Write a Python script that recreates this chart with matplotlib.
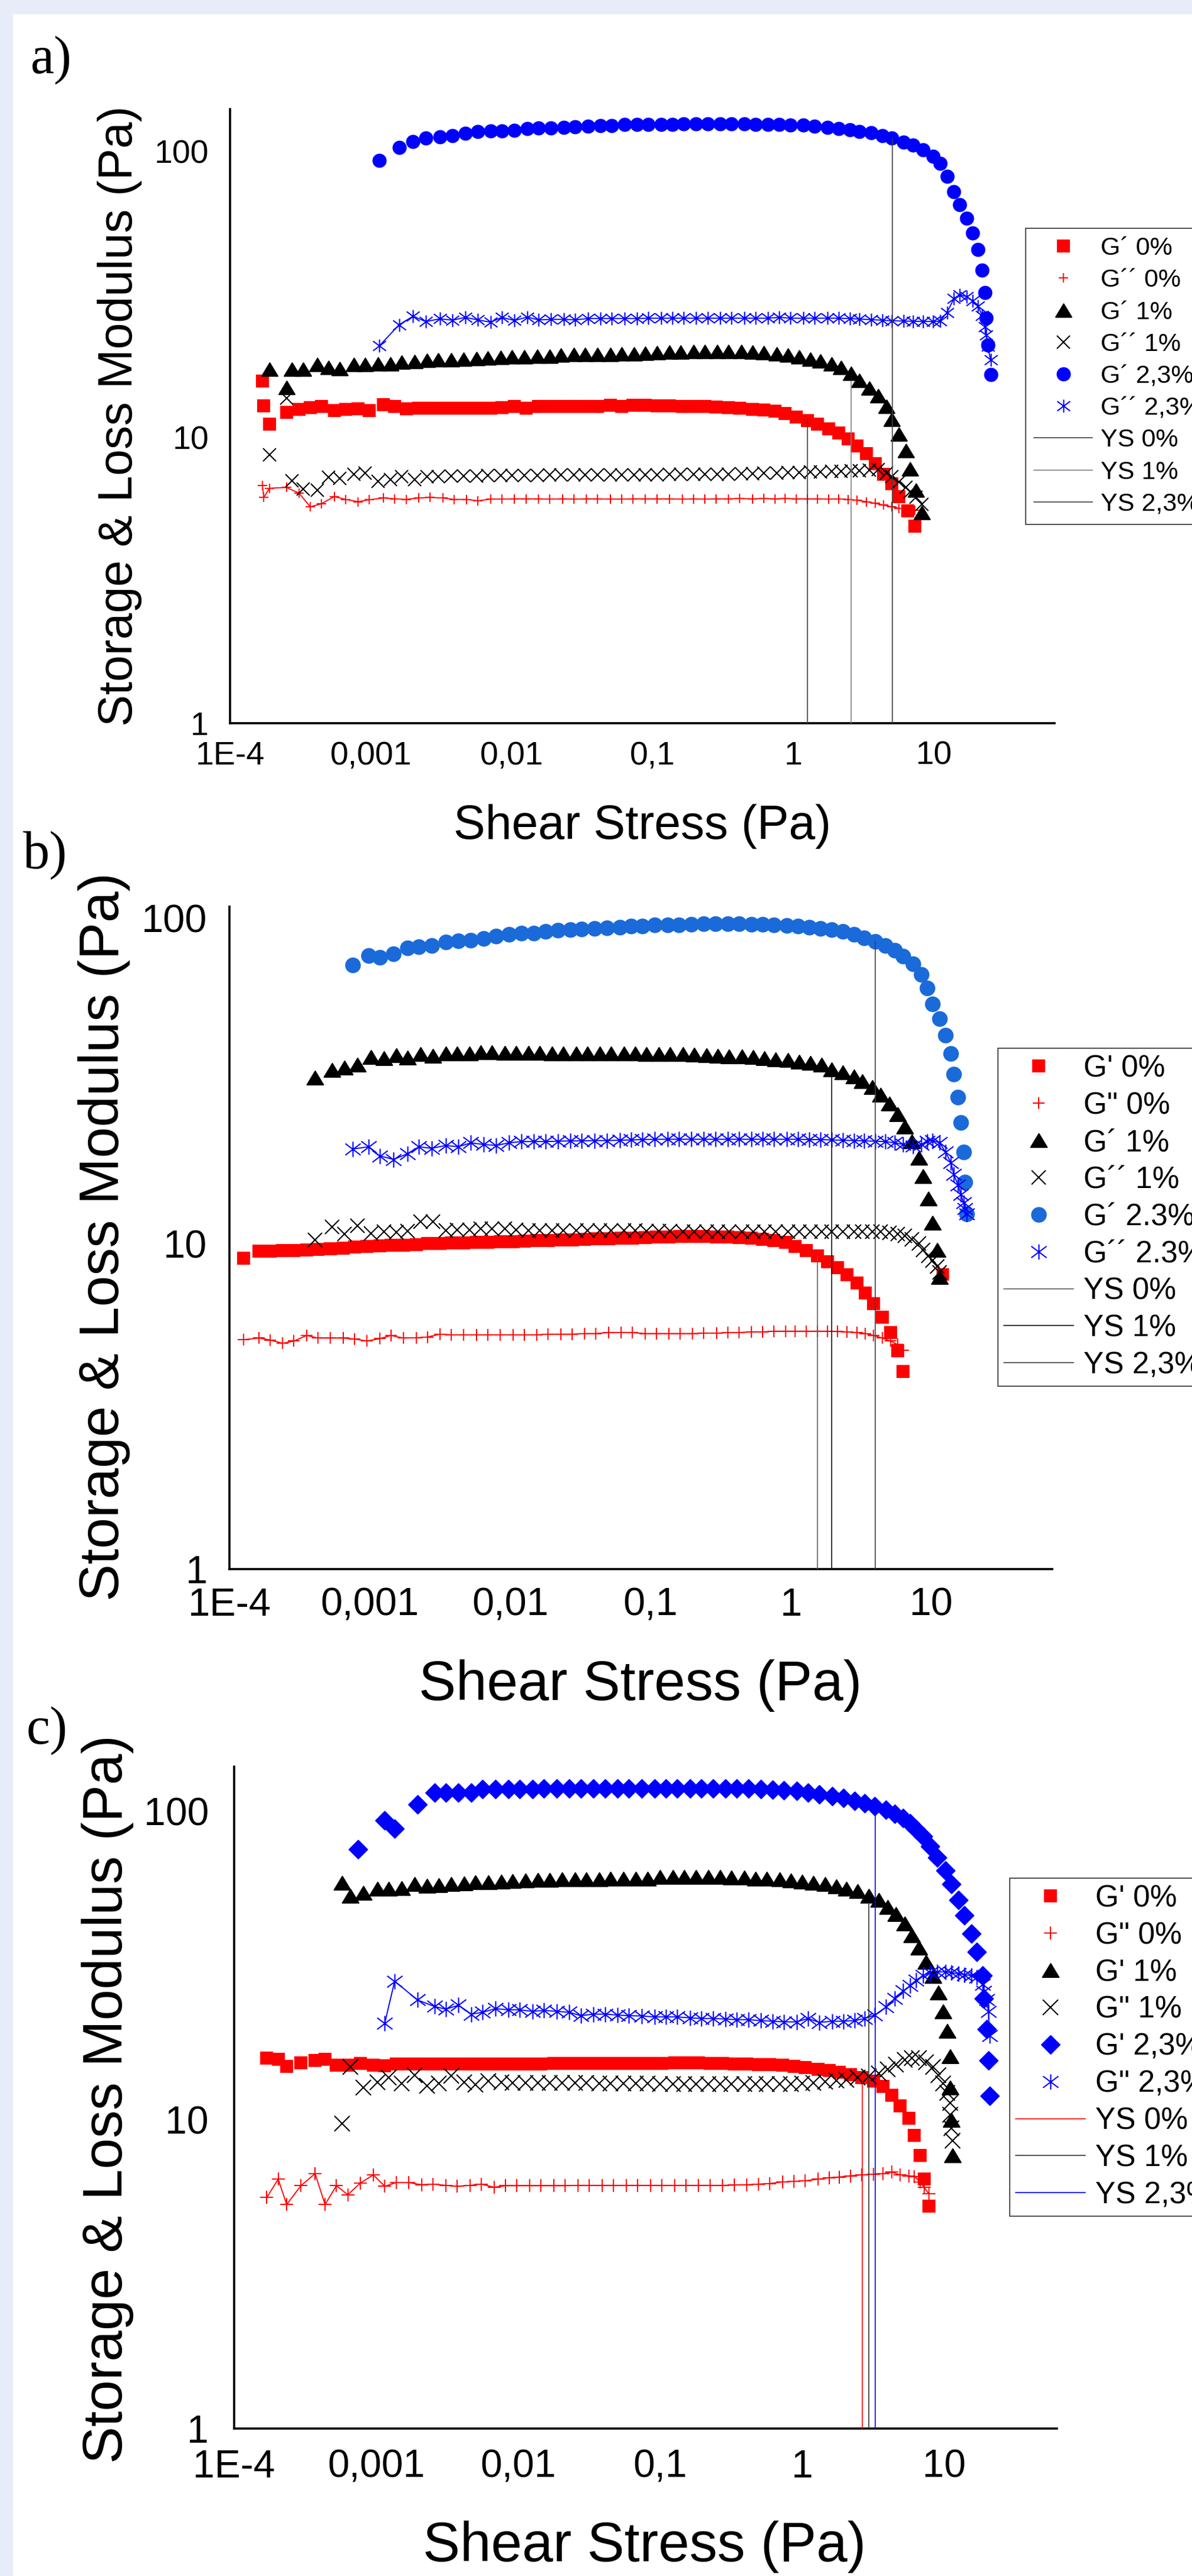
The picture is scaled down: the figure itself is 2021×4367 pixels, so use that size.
import numpy as np
import matplotlib
matplotlib.use("Agg")
import matplotlib.pyplot as plt
from matplotlib.path import Path
from matplotlib.patches import Rectangle
from matplotlib.ticker import NullLocator

W, H = 2021, 4367

plt.rcParams["font.family"] = ["Liberation Sans", "DejaVu Sans"]

X_TICKS = [1e-4, 1e-3, 1e-2, 1e-1, 1, 10]
X_TICK_LABELS = ["1E-4", "0,001", "0,01", "0,1", "1", "10"]
Y_TICKS = [1, 10, 100]
Y_TICK_LABELS = ["1", "10", "100"]

# series values are log10 of the values (shear stress, modulus in Pa)
# ---- a) ----
A_X0 = [-3.77, -3.76, -3.72, -3.60, -3.51, -3.43, -3.35, -3.26, -3.18, -3.09,
        -3.01, -2.91, -2.83, -2.75, -2.66, -2.58, -2.49, -2.41, -2.32, -2.24,
        -2.15, -2.07, -1.98, -1.90, -1.81, -1.73, -1.64, -1.56, -1.47, -1.39,
        -1.30, -1.22, -1.14, -1.05, -0.97, -0.88, -0.79, -0.71, -0.63, -0.55,
        -0.46, -0.38, -0.29, -0.21, -0.13, -0.06, 0.02, 0.10, 0.17, 0.25,
        0.32, 0.39, 0.45, 0.52, 0.58, 0.64, 0.70, 0.75, 0.81, 0.86]
A_GP0 = [1.197, 1.111, 1.047, 1.088, 1.099, 1.104, 1.109, 1.094, 1.098, 1.101,
         1.094, 1.114, 1.108, 1.101, 1.103, 1.103, 1.103, 1.103, 1.103, 1.103,
         1.103, 1.105, 1.109, 1.103, 1.109, 1.109, 1.109, 1.109, 1.109, 1.109,
         1.113, 1.109, 1.113, 1.113, 1.111, 1.111, 1.109, 1.109, 1.109, 1.106,
         1.104, 1.103, 1.099, 1.096, 1.091, 1.084, 1.071, 1.059, 1.047, 1.030,
         1.015, 0.995, 0.971, 0.943, 0.909, 0.872, 0.837, 0.793, 0.744, 0.689]
A_GPP0 = [0.831, 0.790, 0.822, 0.825, 0.805, 0.757, 0.768, 0.793, 0.783, 0.775,
          0.782, 0.788, 0.785, 0.783, 0.788, 0.790, 0.788, 0.783, 0.783, 0.778,
          0.784, 0.784, 0.785, 0.785, 0.785, 0.784, 0.785, 0.784, 0.785, 0.785,
          0.784, 0.784, 0.785, 0.785, 0.785, 0.785, 0.784, 0.785, 0.784, 0.785,
          0.785, 0.786, 0.785, 0.786, 0.785, 0.786, 0.785, 0.785, 0.785, 0.784,
          0.785, 0.783, 0.780, 0.775, 0.769, 0.763, 0.757, 0.752, 0.748, 0.745]
A_X1 = [-3.72, -3.60, -3.56, -3.48, -3.38, -3.30, -3.22, -3.12, -3.04, -2.95,
        -2.86, -2.78, -2.69, -2.60, -2.52, -2.43, -2.34, -2.25, -2.17, -2.08,
        -2.00, -1.91, -1.82, -1.73, -1.65, -1.56, -1.48, -1.39, -1.30, -1.22,
        -1.13, -1.05, -0.97, -0.88, -0.80, -0.71, -0.63, -0.54, -0.46, -0.37,
        -0.29, -0.21, -0.12, -0.04, 0.04, 0.12, 0.19, 0.27, 0.34, 0.41,
        0.47, 0.54, 0.60, 0.66, 0.70, 0.75, 0.80, 0.83, 0.87, 0.91]
A_GP1 = [1.239, 1.175, 1.239, 1.239, 1.254, 1.244, 1.241, 1.254, 1.254, 1.257,
         1.256, 1.263, 1.266, 1.269, 1.271, 1.272, 1.274, 1.276, 1.277, 1.279,
         1.282, 1.282, 1.284, 1.284, 1.287, 1.289, 1.289, 1.290, 1.290, 1.292,
         1.293, 1.294, 1.296, 1.298, 1.298, 1.300, 1.300, 1.300, 1.300, 1.300,
         1.298, 1.296, 1.293, 1.288, 1.282, 1.274, 1.267, 1.257, 1.244, 1.224,
         1.200, 1.173, 1.145, 1.109, 1.062, 1.012, 0.953, 0.889, 0.815, 0.736]
A_GPP1 = [0.940, 1.137, 0.849, 0.820, 0.815, 0.860, 0.857, 0.871, 0.875, 0.846,
          0.852, 0.863, 0.852, 0.862, 0.862, 0.864, 0.865, 0.865, 0.866, 0.866,
          0.867, 0.867, 0.867, 0.868, 0.868, 0.868, 0.869, 0.869, 0.869, 0.869,
          0.869, 0.869, 0.869, 0.870, 0.870, 0.870, 0.871, 0.871, 0.872, 0.873,
          0.874, 0.875, 0.876, 0.877, 0.878, 0.879, 0.880, 0.881, 0.882, 0.883,
          0.884, 0.885, 0.888, 0.875, 0.862, 0.845, 0.826, 0.810, 0.790, 0.765]
A_X2 = [-2.94, -2.80, -2.70, -2.61, -2.51, -2.42, -2.33, -2.24, -2.15, -2.07,
        -1.98, -1.89, -1.81, -1.72, -1.63, -1.55, -1.46, -1.37, -1.29, -1.20,
        -1.11, -1.03, -0.94, -0.86, -0.78, -0.69, -0.61, -0.52, -0.44, -0.35,
        -0.27, -0.18, -0.10, -0.02, 0.07, 0.15, 0.24, 0.32, 0.40, 0.47,
        0.55, 0.63, 0.70, 0.78, 0.85, 0.92, 0.99, 1.04, 1.09, 1.14,
        1.18, 1.23, 1.27, 1.31, 1.34, 1.36, 1.37, 1.38, 1.40]
A_GP2 = [1.969, 2.015, 2.036, 2.047, 2.052, 2.056, 2.064, 2.070, 2.072, 2.073,
         2.075, 2.080, 2.082, 2.083, 2.084, 2.087, 2.089, 2.090, 2.091, 2.094,
         2.094, 2.094, 2.095, 2.095, 2.096, 2.096, 2.096, 2.096, 2.096, 2.096,
         2.095, 2.095, 2.094, 2.093, 2.092, 2.088, 2.085, 2.081, 2.076, 2.071,
         2.066, 2.056, 2.047, 2.034, 2.022, 2.006, 1.984, 1.958, 1.913, 1.859,
         1.815, 1.767, 1.716, 1.657, 1.585, 1.506, 1.417, 1.323, 1.219]
A_GPP2 = [1.320, 1.394, 1.424, 1.405, 1.415, 1.410, 1.420, 1.411, 1.403, 1.420,
          1.409, 1.421, 1.411, 1.413, 1.413, 1.411, 1.416, 1.416, 1.416, 1.416,
          1.416, 1.417, 1.417, 1.417, 1.417, 1.417, 1.417, 1.417, 1.417, 1.417,
          1.417, 1.417, 1.420, 1.417, 1.417, 1.417, 1.417, 1.417, 1.416, 1.414,
          1.412, 1.410, 1.408, 1.407, 1.406, 1.406, 1.405, 1.407, 1.437, 1.486,
          1.498, 1.493, 1.478, 1.460, 1.427, 1.387, 1.358, 1.318, 1.271]
# yield stress lines (Pa): position and height of each vertical line
A_YS_X = [1.26, 2.56, 5.04]
A_YS_TOP = [11.5, 15.7, 110.6]

# ---- b) ----
B_X0 = [-3.90, -3.79, -3.71, -3.62, -3.54, -3.45, -3.37, -3.28, -3.19, -3.11,
        -3.02, -2.93, -2.85, -2.76, -2.67, -2.59, -2.50, -2.42, -2.33, -2.24,
        -2.16, -2.07, -1.98, -1.90, -1.81, -1.73, -1.64, -1.56, -1.47, -1.39,
        -1.30, -1.21, -1.13, -1.04, -0.96, -0.87, -0.79, -0.70, -0.62, -0.53,
        -0.45, -0.37, -0.28, -0.20, -0.12, -0.04, 0.03, 0.11, 0.19, 0.26,
        0.33, 0.40, 0.47, 0.53, 0.59, 0.65, 0.71, 0.76, 0.80]
B_GP0 = [0.956, 0.978, 0.978, 0.979, 0.979, 0.980, 0.982, 0.985, 0.987, 0.989,
         0.991, 0.993, 0.995, 0.996, 0.998, 1.000, 1.001, 1.002, 1.003, 1.004,
         1.005, 1.006, 1.007, 1.008, 1.009, 1.010, 1.011, 1.012, 1.014, 1.015,
         1.016, 1.017, 1.018, 1.019, 1.020, 1.021, 1.022, 1.022, 1.022, 1.021,
         1.020, 1.019, 1.017, 1.014, 1.010, 1.004, 0.991, 0.979, 0.963, 0.944,
         0.926, 0.905, 0.880, 0.849, 0.815, 0.775, 0.727, 0.671, 0.607]
B_GPP0 = [0.705, 0.710, 0.704, 0.694, 0.701, 0.718, 0.710, 0.710, 0.710, 0.707,
          0.701, 0.708, 0.718, 0.710, 0.711, 0.713, 0.722, 0.720, 0.720, 0.720,
          0.720, 0.720, 0.720, 0.720, 0.720, 0.722, 0.722, 0.722, 0.724, 0.724,
          0.727, 0.727, 0.727, 0.724, 0.724, 0.724, 0.724, 0.724, 0.725, 0.725,
          0.727, 0.727, 0.729, 0.729, 0.731, 0.731, 0.731, 0.731, 0.731, 0.731,
          0.730, 0.729, 0.727, 0.724, 0.718, 0.710, 0.701, 0.690, 0.673]
B_GP0_STRAY_X = [12.0]   # Pa
B_GP0_STRAY_Y = [8.07]   # Pa
B_X1 = [-3.39, -3.27, -3.18, -3.09, -2.99, -2.90, -2.81, -2.73, -2.64, -2.55,
        -2.46, -2.38, -2.29, -2.21, -2.13, -2.04, -1.96, -1.87, -1.79, -1.70,
        -1.62, -1.53, -1.45, -1.36, -1.28, -1.19, -1.11, -1.03, -0.94, -0.86,
        -0.77, -0.69, -0.60, -0.52, -0.44, -0.35, -0.27, -0.19, -0.11, -0.02,
        0.06, 0.14, 0.22, 0.29, 0.37, 0.45, 0.51, 0.58, 0.64, 0.70,
        0.76, 0.81, 0.86, 0.91, 0.94, 0.98, 1.01, 1.04, 1.06]
B_GP1 = [1.510, 1.534, 1.541, 1.550, 1.573, 1.570, 1.580, 1.571, 1.583, 1.578,
         1.585, 1.584, 1.585, 1.589, 1.589, 1.587, 1.587, 1.587, 1.587, 1.585,
         1.585, 1.585, 1.585, 1.585, 1.585, 1.585, 1.584, 1.583, 1.583, 1.583,
         1.583, 1.581, 1.580, 1.578, 1.576, 1.575, 1.573, 1.570, 1.567, 1.564,
         1.559, 1.555, 1.550, 1.536, 1.527, 1.513, 1.499, 1.481, 1.458, 1.430,
         1.397, 1.360, 1.314, 1.263, 1.208, 1.138, 1.064, 0.981, 0.898]
B_GPP1 = [1.011, 1.051, 1.030, 1.055, 1.032, 1.037, 1.035, 1.039, 1.067, 1.067,
          1.041, 1.043, 1.043, 1.046, 1.046, 1.046, 1.043, 1.041, 1.041, 1.041,
          1.041, 1.041, 1.041, 1.041, 1.041, 1.040, 1.040, 1.039, 1.038, 1.038,
          1.037, 1.037, 1.037, 1.037, 1.037, 1.037, 1.037, 1.037, 1.037, 1.037,
          1.037, 1.037, 1.037, 1.037, 1.037, 1.037, 1.037, 1.037, 1.037, 1.034,
          1.030, 1.025, 1.014, 1.000, 0.981, 0.963, 0.949, 0.930, 0.912]
B_X2 = [-3.12, -3.01, -2.93, -2.83, -2.73, -2.65, -2.56, -2.46, -2.37, -2.28,
        -2.19, -2.10, -2.01, -1.92, -1.83, -1.75, -1.66, -1.57, -1.49, -1.40,
        -1.31, -1.22, -1.14, -1.06, -0.97, -0.88, -0.80, -0.71, -0.62, -0.54,
        -0.45, -0.37, -0.28, -0.20, -0.12, -0.03, 0.05, 0.13, 0.21, 0.29,
        0.37, 0.45, 0.52, 0.60, 0.67, 0.74, 0.80, 0.87, 0.93, 0.97,
        1.01, 1.06, 1.10, 1.14, 1.16, 1.19, 1.21, 1.23, 1.24, 1.25]
B_GP2 = [1.857, 1.885, 1.880, 1.891, 1.909, 1.913, 1.916, 1.928, 1.931, 1.933,
         1.939, 1.946, 1.950, 1.954, 1.955, 1.959, 1.963, 1.965, 1.967, 1.969,
         1.971, 1.973, 1.976, 1.977, 1.979, 1.979, 1.980, 1.982, 1.983, 1.983,
         1.983, 1.983, 1.982, 1.982, 1.980, 1.978, 1.976, 1.973, 1.969, 1.965,
         1.959, 1.950, 1.940, 1.929, 1.917, 1.902, 1.883, 1.860, 1.828, 1.786,
         1.737, 1.691, 1.641, 1.585, 1.522, 1.450, 1.373, 1.282, 1.189, 1.092]
B_GPP2 = [1.291, 1.298, 1.270, 1.259, 1.277, 1.298, 1.293, 1.302, 1.298, 1.310,
          1.305, 1.302, 1.310, 1.314, 1.314, 1.314, 1.315, 1.316, 1.316, 1.317,
          1.317, 1.318, 1.319, 1.320, 1.321, 1.321, 1.321, 1.321, 1.321, 1.321,
          1.321, 1.321, 1.321, 1.321, 1.321, 1.321, 1.321, 1.320, 1.320, 1.319,
          1.318, 1.317, 1.316, 1.315, 1.314, 1.310, 1.305, 1.300, 1.305, 1.314,
          1.317, 1.310, 1.282, 1.249, 1.213, 1.180, 1.152, 1.125, 1.108, 1.092]
B_YS_X = [1.54, 1.95, 3.99]
B_YS_TOP = [9.1, 32.7, 84.9]

# ---- c) ----
C_X0 = [-3.77, -3.69, -3.63, -3.53, -3.43, -3.36, -3.28, -3.20, -3.11, -3.02,
        -2.94, -2.86, -2.77, -2.68, -2.60, -2.51, -2.43, -2.34, -2.26, -2.17,
        -2.09, -2.01, -1.92, -1.84, -1.75, -1.67, -1.58, -1.50, -1.41, -1.33,
        -1.24, -1.16, -1.07, -0.99, -0.90, -0.82, -0.73, -0.65, -0.56, -0.48,
        -0.39, -0.31, -0.23, -0.14, -0.06, 0.02, 0.11, 0.19, 0.26, 0.34,
        0.42, 0.50, 0.57, 0.63, 0.69, 0.75, 0.79, 0.83, 0.86, 0.89]
C_GP0 = [1.201, 1.197, 1.174, 1.185, 1.192, 1.197, 1.178, 1.178, 1.183, 1.178,
         1.176, 1.181, 1.181, 1.181, 1.182, 1.182, 1.182, 1.182, 1.182, 1.182,
         1.182, 1.182, 1.182, 1.182, 1.183, 1.183, 1.183, 1.183, 1.183, 1.183,
         1.183, 1.183, 1.183, 1.184, 1.185, 1.185, 1.185, 1.184, 1.183, 1.182,
         1.181, 1.180, 1.179, 1.177, 1.174, 1.170, 1.165, 1.160, 1.155, 1.148,
         1.138, 1.126, 1.108, 1.081, 1.046, 1.005, 0.950, 0.886, 0.808, 0.721]
C_GPP0 = [0.749, 0.808, 0.726, 0.787, 0.826, 0.726, 0.787, 0.758, 0.796, 0.822,
          0.785, 0.797, 0.797, 0.790, 0.792, 0.788, 0.785, 0.788, 0.792, 0.782,
          0.787, 0.787, 0.787, 0.787, 0.787, 0.787, 0.788, 0.788, 0.788, 0.788,
          0.788, 0.788, 0.788, 0.788, 0.788, 0.788, 0.788, 0.788, 0.788, 0.789,
          0.790, 0.792, 0.794, 0.799, 0.801, 0.803, 0.808, 0.813, 0.815, 0.819,
          0.822, 0.824, 0.826, 0.831, 0.822, 0.819, 0.817, 0.799, 0.781, 0.761]
C_X1 = [-3.24, -3.18, -3.09, -2.99, -2.91, -2.82, -2.73, -2.64, -2.56, -2.47,
        -2.38, -2.30, -2.21, -2.12, -2.04, -1.95, -1.86, -1.78, -1.69, -1.60,
        -1.52, -1.43, -1.35, -1.26, -1.17, -1.09, -1.00, -0.91, -0.83, -0.75,
        -0.66, -0.58, -0.50, -0.41, -0.33, -0.25, -0.16, -0.08, 0.00, 0.08,
        0.16, 0.24, 0.31, 0.39, 0.47, 0.54, 0.60, 0.66, 0.72, 0.77,
        0.82, 0.87, 0.92, 0.96, 0.99, 1.02, 1.04, 1.04, 1.05, 1.06]
C_GP1 = [1.768, 1.727, 1.736, 1.750, 1.750, 1.752, 1.764, 1.759, 1.761, 1.764,
         1.766, 1.770, 1.770, 1.773, 1.775, 1.776, 1.777, 1.777, 1.779, 1.779,
         1.780, 1.780, 1.782, 1.782, 1.782, 1.782, 1.787, 1.787, 1.787, 1.787,
         1.787, 1.787, 1.785, 1.785, 1.782, 1.782, 1.779, 1.776, 1.773, 1.768,
         1.764, 1.757, 1.750, 1.741, 1.727, 1.713, 1.690, 1.668, 1.636, 1.599,
         1.558, 1.512, 1.466, 1.412, 1.352, 1.288, 1.206, 1.105, 1.000, 0.886]
C_GPP1 = [0.989, 1.172, 1.105, 1.123, 1.137, 1.119, 1.146, 1.110, 1.119, 1.144,
          1.123, 1.114, 1.126, 1.123, 1.121, 1.121, 1.121, 1.121, 1.120, 1.120,
          1.120, 1.119, 1.119, 1.118, 1.118, 1.118, 1.117, 1.117, 1.117, 1.117,
          1.117, 1.117, 1.117, 1.117, 1.117, 1.117, 1.117, 1.117, 1.118, 1.120,
          1.124, 1.127, 1.130, 1.137, 1.142, 1.151, 1.165, 1.180, 1.195, 1.201,
          1.201, 1.188, 1.172, 1.146, 1.119, 1.087, 1.055, 1.018, 0.973, 0.932]
C_X2 = [-3.13, -2.94, -2.87, -2.71, -2.59, -2.51, -2.42, -2.33, -2.25, -2.16,
        -2.07, -1.99, -1.90, -1.82, -1.73, -1.64, -1.56, -1.47, -1.39, -1.30,
        -1.22, -1.13, -1.04, -0.96, -0.88, -0.79, -0.71, -0.63, -0.54, -0.46,
        -0.38, -0.29, -0.21, -0.13, -0.04, 0.04, 0.12, 0.21, 0.29, 0.37,
        0.44, 0.51, 0.59, 0.65, 0.71, 0.76, 0.80, 0.85, 0.90, 0.95,
        1.01, 1.05, 1.10, 1.14, 1.19, 1.23, 1.27, 1.28, 1.30, 1.31, 1.32]
C_GP2 = [1.878, 1.971, 1.944, 2.022, 2.061, 2.061, 2.061, 2.061, 2.072, 2.072,
         2.072, 2.072, 2.072, 2.075, 2.075, 2.075, 2.075, 2.075, 2.075, 2.075,
         2.075, 2.075, 2.075, 2.075, 2.075, 2.075, 2.075, 2.075, 2.075, 2.075,
         2.075, 2.072, 2.070, 2.068, 2.066, 2.061, 2.056, 2.050, 2.043, 2.035,
         2.026, 2.017, 2.006, 1.992, 1.979, 1.962, 1.942, 1.919, 1.887, 1.851,
         1.809, 1.764, 1.713, 1.663, 1.604, 1.544, 1.468, 1.393, 1.295, 1.192, 1.078]
# G'' 2,3% starts at the second stress value of C_X2
C_GPP2 = [1.313, 1.450, 1.389, 1.368, 1.359, 1.372, 1.343, 1.349, 1.361,
          1.357, 1.357, 1.352, 1.355, 1.352, 1.349, 1.338, 1.343, 1.343, 1.340,
          1.338, 1.337, 1.334, 1.334, 1.334, 1.331, 1.329, 1.329, 1.327, 1.325,
          1.325, 1.322, 1.320, 1.318, 1.318, 1.329, 1.316, 1.320, 1.320, 1.322,
          1.329, 1.340, 1.366, 1.393, 1.418, 1.435, 1.452, 1.468, 1.477, 1.480,
          1.480, 1.477, 1.474, 1.471, 1.468, 1.462, 1.439, 1.416, 1.389, 1.352, 1.274]
C_YS_X = [2.64, 2.93, 3.27]
C_YS_TOP = [14.0, 50.6, 102.6]

# marker shapes
TRI = Path([(-1, -0.83), (1, -0.83), (0, 0.83), (-1, -0.83)],
           [Path.MOVETO, Path.LINETO, Path.LINETO, Path.CLOSEPOLY])
DIAMOND = Path([(0, 1), (1, 0), (0, -1), (-1, 0), (0, 1)],
               [Path.MOVETO, Path.LINETO, Path.LINETO, Path.LINETO, Path.CLOSEPOLY])
AST = Path([(0, -1), (0, 1), (-1, -0.75), (1, 0.75), (-1, 0.75), (1, -0.75)],
           [Path.MOVETO, Path.LINETO, Path.MOVETO, Path.LINETO, Path.MOVETO, Path.LINETO])

RED, BLACK, BLUE = "#ff0000", "#000000", "#0000ff"

fig = plt.figure(figsize=(W / 100, H / 100), dpi=100, facecolor="#e8ecf8")
fig.add_artist(Rectangle((22 / W, 0), 1, 1 - 24 / H, transform=fig.transFigure,
                         facecolor="white", edgecolor="none", zorder=-10))


def fx(px):
    return px / W


def fy(py):
    return 1 - py / H


def make_axes(left, top, right, bottom):
    return fig.add_axes([fx(left), fy(bottom), (right - left) / W, (bottom - top) / H])


def series(ax, lx, ly, color, marker, ms, label, line=False, hollow=False, mew=1.5):
    x = 10 ** np.asarray(lx, dtype=float)
    y = 10 ** np.asarray(ly, dtype=float)
    if line:
        ax.plot(x, y, "-", color=color, lw=1.4, zorder=2)
    ax.plot(x, y, ls="none", marker=marker, ms=ms, mec=color,
            mfc="none" if hollow else color, mew=mew, label=label, zorder=3)


def yield_lines(ax, xs, tops, colors, labels):
    for x, top, c, lab in zip(xs, tops, colors, labels):
        ax.plot([x, x], [1, top], color=c, lw=1.2, label=lab, zorder=4)


def style_axes(ax, x_hi, y_hi, tick_fs, xpad, ypad):
    ax.set_xscale("log")
    ax.set_yscale("log")
    ax.set_xlim(1e-4, 10 ** x_hi)
    ax.set_ylim(1, 10 ** y_hi)
    ax.set_xticks(X_TICKS)
    ax.set_xticklabels(X_TICK_LABELS)
    ax.set_yticks(Y_TICKS)
    ax.set_yticklabels(Y_TICK_LABELS)
    ax.xaxis.set_minor_locator(NullLocator())
    ax.yaxis.set_minor_locator(NullLocator())
    ax.tick_params(axis="x", length=0, pad=xpad, labelsize=tick_fs)
    ax.tick_params(axis="y", length=0, pad=ypad, labelsize=tick_fs)
    for s in ("top", "right"):
        ax.spines[s].set_visible(False)
    for s in ("left", "bottom"):
        ax.spines[s].set_linewidth(2.6)
    ax.patch.set_alpha(0)


def add_legend(ax, left, top, fs, pad, spacing):
    leg = ax.legend(loc="upper left", bbox_to_anchor=(fx(left), fy(top)),
                    bbox_transform=fig.transFigure, borderaxespad=0, fontsize=fs,
                    frameon=True, fancybox=False, edgecolor="#404040", framealpha=1,
                    borderpad=pad, labelspacing=spacing, handlelength=2.3,
                    handletextpad=0.33, numpoints=1)
    leg.get_frame().set_linewidth(1.3)


def texts(letter_xy, ylab_xy, xlab_xy, label_fs):
    fig.text(fx(letter_xy[0]), fy(letter_xy[1]), letter_xy[2], family="Liberation Serif",
             fontsize=65, ha="left", va="center")
    fig.text(fx(ylab_xy[0]), fy(ylab_xy[1]), "Storage & Loss Modulus (Pa)", rotation=90,
             ha="center", va="center", fontsize=label_fs)
    fig.text(fx(xlab_xy[0]), fy(xlab_xy[1]), "Shear Stress (Pa)",
             ha="center", va="center", fontsize=label_fs)


# ---------------- panel a ----------------
ax = make_axes(390, 185, 1788, 1226)
series(ax, A_X0, A_GP0, RED, "s", 14, "G\u00b4 0%")
series(ax, A_X0, A_GPP0, RED, "+", 11.5, "G\u00b4\u00b4 0%", line=True)
series(ax, A_X1, A_GP1, BLACK, TRI, 19.4, "G\u00b4 1%")
series(ax, A_X1, A_GPP1, BLACK, "x", 15.8, "G\u00b4\u00b4 1%")
series(ax, A_X2, A_GP2, BLUE, "o", 15.8, "G\u00b4 2,3%")
series(ax, A_X2, A_GPP2, BLUE, AST, 15.8, "G\u00b4\u00b4 2,3%", line=True, hollow=True)
yield_lines(ax, A_YS_X, A_YS_TOP, ["#404040", "#808080", "#404040"],
            ["YS 0%", "YS 1%", "YS 2,3%"])
style_axes(ax, 1.854, 2.1486, 40, 21.5, 26)
add_legend(ax, 1739, 387, 31, 0.33, 0.33)
texts((52, 102, "a)"), (203, 705), (1089, 1401), 58)

# ---------------- panel b ----------------
ax = make_axes(389, 1537, 1784, 2660)
series(ax, B_X0, B_GP0, RED, "s", 15, "G' 0%")
ax.plot(B_GP0_STRAY_X, B_GP0_STRAY_Y, ls="none", marker="s", ms=15, color=RED, zorder=3)
series(ax, B_X0, B_GPP0, RED, "+", 15, 'G" 0%', line=True)
series(ax, B_X1, B_GP1, BLACK, TRI, 20, "G\u00b4 1%")
series(ax, B_X1, B_GPP1, BLACK, "x", 17.6, "G\u00b4\u00b4 1%")
series(ax, B_X2, B_GP2, "#1a6ad9", "o", 17.6, "G\u00b4 2.3%")
series(ax, B_X2, B_GPP2, BLUE, AST, 18.7, "G\u00b4\u00b4 2.3%", line=True, hollow=True)
yield_lines(ax, B_YS_X, B_YS_TOP, ["#606060", "#111111", "#404040"],
            ["YS 0%", "YS 1%", "YS 2,3%"])
style_axes(ax, 1.861, 2.036, 48, 22, 27)
add_legend(ax, 1692, 1777, 37, 0.2, 0.27)
texts((39, 1450, "b)"), (177, 2097), (1086, 2857), 68)

# ---------------- panel c ----------------
ax = make_axes(397, 2995, 1792, 4117)
series(ax, C_X0, C_GP0, RED, "s", 15, "G' 0%")
series(ax, C_X0, C_GPP0, RED, "+", 16.5, 'G" 0%', line=True)
series(ax, C_X1, C_GP1, BLACK, TRI, 20, "G' 1%")
series(ax, C_X1, C_GPP1, BLACK, "x", 18.7, 'G" 1%')
series(ax, C_X2, C_GP2, BLUE, DIAMOND, 22.3, "G' 2,3%")
series(ax, C_X2[1:], C_GPP2, BLUE, AST, 18.7, 'G" 2,3%', line=True, hollow=True)
yield_lines(ax, C_YS_X, C_YS_TOP, [RED, "#333333", BLUE],
            ["YS 0%", "YS 1%", "YS 2,3%"])
style_axes(ax, 1.793, 2.145, 47.5, 25, 31)
add_legend(ax, 1712, 3184, 37, 0.2, 0.27)
texts((45, 2934, "c)"), (183, 3558), (1093, 4318), 68)

fig.savefig("out.png", dpi=100, facecolor=fig.get_facecolor())
